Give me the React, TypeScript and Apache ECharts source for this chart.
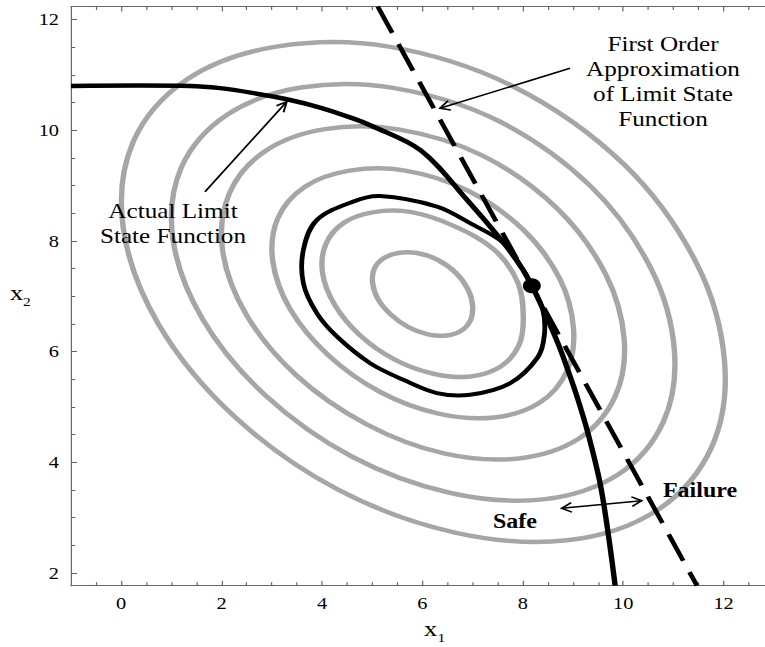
import React, { useEffect, useRef } from 'react';
import * as echarts from 'echarts';

// The reference image is horizontally stretched; draw at a narrower width and stretch.
const W = 638;
const H = 647;
const S = 765 / W;

const xMajorTicks = [0, 2, 4, 6, 8, 10, 12];
const xMinorTicks = [-0.5, 0.5, 1, 1.5, 2.5, 3, 3.5, 4.5, 5, 5.5, 6.5, 7, 7.5, 8.5, 9, 9.5, 10.5, 11, 11.5, 12.5];
const yMajorTicks = [2, 4, 6, 8, 10, 12];
const yMinorTicks = [2.5, 3, 3.5, 4.5, 5, 5.5, 6.5, 7, 7.5, 8.5, 9, 9.5, 10.5, 11, 11.5];

const contour1 = [[6.96,6.57],[7.00,6.83],[6.91,7.12],[6.67,7.42],[6.30,7.66],[5.89,7.78],[5.52,7.78],[5.22,7.68],[5.04,7.49],[5.01,7.23],[5.12,6.94],[5.37,6.67],[5.72,6.44],[6.11,6.31],[6.48,6.29],[6.78,6.38]];
const contour2 = [[7.92,6.11],[8.01,6.62],[7.90,7.25],[7.42,7.85],[6.60,8.28],[5.78,8.52],[5.03,8.52],[4.44,8.33],[4.08,7.95],[4.01,7.43],[4.25,6.85],[4.75,6.30],[5.44,5.86],[6.22,5.60],[6.96,5.55],[7.56,5.73]];
const contour3 = [[8.88,5.65],[9.01,6.42],[8.74,7.31],[8.01,8.20],[6.90,8.91],[5.66,9.27],[4.55,9.27],[3.66,8.98],[3.12,8.41],[3.02,7.63],[3.37,6.76],[4.12,5.94],[5.16,5.27],[6.32,4.88],[7.44,4.81],[8.34,5.08]];
const contour4 = [[9.84,5.19],[10.02,6.22],[9.65,7.40],[8.68,8.59],[7.20,9.54],[5.55,10.01],[4.06,10.02],[2.88,9.63],[2.16,8.87],[2.02,7.83],[2.49,6.67],[3.49,5.57],[4.88,4.69],[6.43,4.16],[7.92,4.07],[9.12,4.43]];
const contour5 = [[10.80,4.73],[11.02,6.02],[10.56,7.49],[9.36,8.98],[7.51,10.17],[5.44,10.76],[3.58,10.77],[2.11,10.28],[1.20,9.33],[1.03,8.04],[1.62,6.59],[2.87,5.21],[4.60,4.10],[6.54,3.45],[8.40,3.33],[9.90,3.78]];
const contour6 = [[11.76,4.27],[12.02,5.81],[11.47,7.58],[10.03,9.37],[7.81,10.79],[5.33,11.51],[3.09,11.51],[1.33,10.93],[0.24,9.79],[0.04,8.24],[0.74,6.50],[2.24,4.84],[4.31,3.51],[6.65,2.73],[8.88,2.59],[10.67,3.13]];

const limitState = [[-1,10.80],[1.37,10.80],[1.97,10.76],[2.64,10.67],[3.30,10.56],[3.96,10.41],[4.63,10.21],[4.96,10.09],[5.96,9.64],[6.89,8.74],[7.62,7.96],[8.01,7.47],[8.18,7.19],[8.41,6.75],[8.70,6.15],[8.92,5.61],[9.10,5.13],[9.30,4.52],[9.54,3.62],[9.70,2.72],[9.84,1.77]];
const designContour = [[3.90,8.38],[4.62,8.71],[5.16,8.81],[6.29,8.62],[6.95,8.32],[7.62,7.96],[8.01,7.47],[8.18,7.19],[8.40,6.75],[8.43,6.30],[8.30,5.90],[7.75,5.43],[6.95,5.22],[6.29,5.25],[5.62,5.49],[4.96,5.79],[4.30,6.27],[3.90,6.69],[3.63,7.23],[3.63,7.84]];
const firstOrder = [[5.11,12.235],[11.47,1.77]];
const designPoint = [[8.18,7.19]];

const X_MIN = -1, X_MAX = 12.825, Y_MIN = 1.77, Y_MAX = 12.235;
const FONT = 'Liberation Serif';
const AXIS_GRAY = '#666';

function xAxisDef(position: string, ticks: number[], len: number, labels: boolean, line: boolean) {
  return {
    type: 'value', position, min: X_MIN, max: X_MAX,
    axisLine: { show: line, onZero: false, lineStyle: { color: AXIS_GRAY, width: 1 } },
    axisTick: { show: true, inside: true, length: len, customValues: ticks, lineStyle: { color: AXIS_GRAY, width: 1 } },
    axisLabel: labels
      ? { show: true, customValues: ticks, fontFamily: FONT, fontSize: 17, color: '#000', margin: 9 }
      : { show: false },
    splitLine: { show: false },
  };
}
function yAxisDef(position: string, ticks: number[], len: number, labels: boolean, line: boolean) {
  return {
    type: 'value', position, min: Y_MIN, max: Y_MAX,
    axisLine: { show: line, onZero: false, lineStyle: { color: AXIS_GRAY, width: 1 } },
    axisTick: { show: true, inside: true, length: len, customValues: ticks, lineStyle: { color: AXIS_GRAY, width: 1 } },
    axisLabel: labels
      ? { show: true, customValues: ticks, fontFamily: FONT, fontSize: 17, color: '#000', margin: 10 }
      : { show: false },
    splitLine: { show: false },
  };
}

function arrow(x1: number, y1: number, x2: number, y2: number, both = false) {
  const head = 11, ang = 0.45, lw = 1.6;
  const els: any[] = [{ type: 'line', shape: { x1: x1 / S, y1, x2: x2 / S, y2 }, style: { stroke: '#000', lineWidth: lw }, z: 50 }];
  const addHead = (tx: number, ty: number, fx: number, fy: number) => {
    const dx = tx - fx, dy = ty - fy; const L = Math.hypot(dx, dy); const ux = dx / L, uy = dy / L;
    const p = (a: number) => { const c = Math.cos(a), s = Math.sin(a); const rx = ux * c - uy * s, ry = ux * s + uy * c; return [(tx - head * rx) / S, ty - head * ry]; };
    els.push({ type: 'polyline', shape: { points: [p(ang), [tx / S, ty], p(-ang)] }, style: { stroke: '#000', lineWidth: lw, fill: null }, z: 50 });
  };
  addHead(x2, y2, x1, y1);
  if (both) addHead(x1, y1, x2, y2);
  return els;
}

function txt(text: string, cx: number, cy: number, size: number, opts: any = {}) {
  return {
    type: 'text', x: cx / S, y: cy, z: 60,
    style: { text, fontFamily: FONT, fontSize: size, fill: '#000', align: opts.align || 'center', verticalAlign: opts.va || 'middle', fontWeight: opts.weight || 'normal', lineHeight: opts.lh || size },
  };
}

// A custom series that draws each curve (one data item per curve) through the axes' scales.
function curveSeries(curves: number[][][], closed: boolean, color: string, width: number, z: number) {
  return {
    type: 'custom', coordinateSystem: 'cartesian2d', xAxisIndex: 0, yAxisIndex: 0, silent: true, z, clip: true,
    data: curves.map((c) => c[0]),
    encode: { x: 0, y: 1 },
    renderItem: (params: any, api: any) => {
      const pts = curves[params.dataIndex].map((p) => api.coord(p));
      return {
        type: closed ? 'polygon' : 'polyline',
        shape: { points: pts, smooth: 0.35 },
        style: { fill: 'none', stroke: color, lineWidth: width, lineJoin: 'round' },
      };
    },
  };
}

export default function App() {
  const ref = useRef<HTMLDivElement>(null);
  useEffect(() => {
    if (!ref.current) return;
    const chart = echarts.init(ref.current, null, { renderer: 'svg' });
    const contours = [contour1, contour2, contour3, contour4, contour5, contour6];
    const series: any[] = [
      curveSeries(contours, true, '#a6a6a6', 4.5, 2),
      curveSeries([designContour], true, '#000', 4, 4),
      curveSeries([limitState], false, '#000', 4.5, 5),
      { type: 'line', data: firstOrder, showSymbol: false, silent: true, xAxisIndex: 0, yAxisIndex: 0,
        lineStyle: { color: '#000', width: 4, type: [29, 12.5], cap: 'butt' }, z: 5 },
      { type: 'scatter', data: designPoint, symbol: 'circle', symbolSize: 15, xAxisIndex: 0, yAxisIndex: 0,
        itemStyle: { color: '#000', opacity: 1 }, silent: true, z: 6 },
    ];

    const graphic: any[] = [
      txt('First Order\nApproximation\nof Limit State\nFunction', 663, 31, 21, { va: 'top', lh: 25 }),
      txt('Actual Limit\nState Function', 173, 198, 21, { va: 'top', lh: 25 }),
      txt('Safe', 515, 521, 20, { weight: 'bold' }),
      txt('Failure', 700, 490, 20, { weight: 'bold' }),
      txt('x', 430.5, 628, 22),
      txt('1', 437.5, 637, 13, { align: 'left' }),
      txt('x', 16.5, 292, 22),
      txt('2', 23, 301, 13, { align: 'left' }),
      ...arrow(205, 191.7, 286.7, 101.7),
      ...arrow(570, 68.3, 440, 108.3),
      ...arrow(561.7, 508.3, 641.7, 500.7, true),
    ];

    chart.setOption({
      animation: false,
      backgroundColor: '#fff',
      grid: { left: 71 / S, right: 0, top: 6.5, bottom: H - 585.7, containLabel: false },
      xAxis: [
        xAxisDef('bottom', xMajorTicks, 5, true, true),
        xAxisDef('bottom', xMinorTicks, 3.5, false, false),
        xAxisDef('top', xMajorTicks, 5, false, true),
        xAxisDef('top', xMinorTicks, 3.5, false, false),
      ],
      yAxis: [
        yAxisDef('left', yMajorTicks, 5, true, true),
        yAxisDef('left', yMinorTicks, 3.5, false, false),
      ],
      series,
      graphic,
    });
    return () => chart.dispose();
  }, []);
  return (
    <div
      ref={ref}
      style={{ position: 'absolute', left: 0, top: 0, width: W, height: H, transform: `scaleX(${S})`, transformOrigin: '0 0', background: '#fff' }}
    />
  );
}
